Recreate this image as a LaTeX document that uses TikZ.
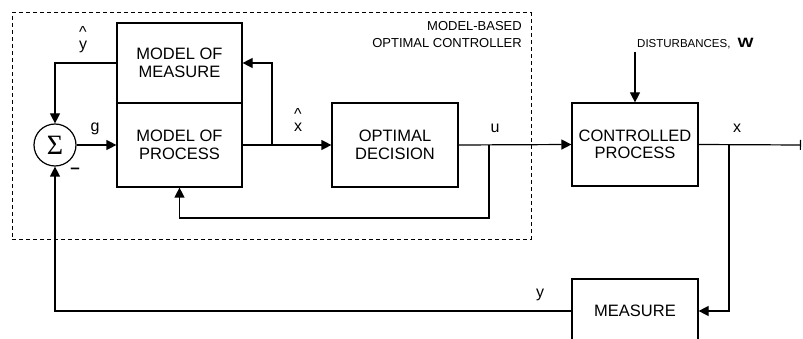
\documentclass[tikz,border=0pt]{standalone}
\usepackage{fontspec}
\setmainfont{Liberation Sans}
\newfontfamily\sigmafont{Liberation Serif}
\usetikzlibrary{arrows.meta,calc}
\begin{document}
\begin{tikzpicture}[x=1pt,y=-1pt,
  blk/.style={draw, line width=1.2pt, inner sep=0pt, align=center,
    font=\fontsize{16.5}{17.5}\selectfont, minimum width=125pt},
  conn/.style={line width=1.2pt},
  arr/.style={conn, -{Triangle[length=10pt,width=10pt]}},
  lbl/.style={inner sep=0pt, font=\fontsize{16}{18}\selectfont},
  frame/.style={draw, line width=1pt, dash pattern=on 4pt off 3pt, inner sep=0pt},
]
\useasboundingbox (0,0) rectangle (803,339);
\clip (0,0) rectangle (803,339);
% controller frame
\node[frame, minimum width=519pt, minimum height=226pt] (ctrl) at (271.5,126) {};
\node[anchor=north east, align=right, inner sep=0pt,
  font=\fontsize{13}{17}\selectfont] (ctrllbl) at (522,21) {MODEL-BASED\\OPTIMAL CONTROLLER};
% blocks
\node[blk, minimum height=80pt] (mm) at (179.5,63) {MODEL OF\\MEASURE};
\node[blk, minimum height=84pt] (mp) at (179.5,145) {MODEL OF\\PROCESS};
\node[draw, circle, line width=1.2pt, minimum size=42pt, inner sep=0pt,
  font=\sigmafont\fontsize{28}{28}\selectfont] (sum) at (55,145) {Σ};
\node[blk, minimum width=126pt, minimum height=84pt] (od) at (395,145) {OPTIMAL\\DECISION};
\node[blk, minimum width=126pt, minimum height=83pt] (cp) at (635,144.5) {CONTROLLED\\PROCESS};
\node[blk, minimum width=126pt, minimum height=64pt] (ms) at (635,311) {MEASURE};
% helper coordinates
\coordinate (xb) at (272,145);
\coordinate (ub) at (489,145);
\coordinate (fb) at (489,218);
\coordinate (xo) at (729,145);
\coordinate (dist) at (635,52);
\coordinate (out) at (801,145);
% connectors
\draw[arr] (sum.east) -- (mp.west);
\draw[conn] (mp.east) -- (xb);
\draw[arr] (xb) -- (od.west);
\draw[arr] (xb) |- (mm.east);
\draw[arr] (mm.west) -| (sum.north);
\draw[arr] (od.east) -- (cp.west);
\draw[arr] (ub) -- (fb) -| (mp.south);
\draw[arr] (dist) -- (cp.north);
\draw[conn, -{Bar[width=10pt]}] (cp.east) -- (out);
\draw[arr] (xo) |- (ms.east);
\draw[arr] (ms.west) -| (sum.south);
% labels
\node[lbl, anchor=base] (g) at (95,132) {g};
\node[lbl, anchor=base] (u) at (495,133) {u};
\node[lbl, anchor=base] (x) at (737,133) {x};
\node[lbl, anchor=base] (y) at (540,297) {y};
\node[lbl, anchor=base] (yhat) at (83,50) {\shortstack{\textasciicircum\\[1pt]y}};
\node[lbl, anchor=base] (xhat) at (298,132) {\shortstack{\textasciicircum\\[1pt]x}};
\node[lbl, font=\bfseries\fontsize{17}{17}\selectfont] (minus) at (75,171) {–};
\node[anchor=base west, inner sep=0pt] (dl) at (637,48)
  {\fontsize{11.5}{12}\selectfont DISTURBANCES,\hspace{7pt}\fontsize{13.5}{13.5}\selectfont\scalebox{1.25}[1]{\textbf{W}}};
\end{tikzpicture}
\end{document}
